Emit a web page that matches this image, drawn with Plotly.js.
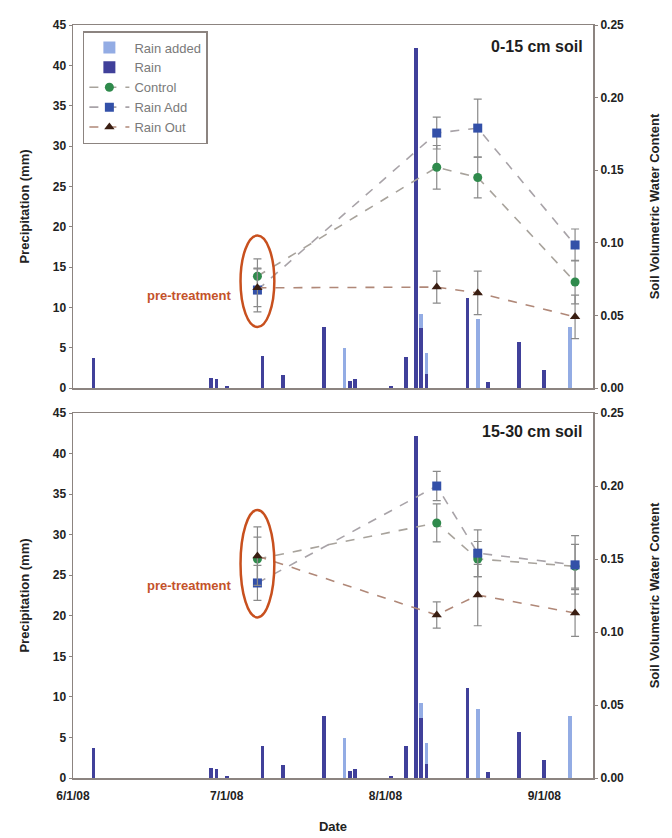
<!DOCTYPE html>
<html>
<head>
<meta charset="utf-8">
<script src="https://cdn.plot.ly/plotly-3.0.1.min.js"></script>
<style>
html,body{margin:0;padding:0;background:#fff;}
#chart{width:672px;height:838px;}
</style>
</head>
<body>
<div id="chart"></div>
<script>
// Precipitation (mm)
const rainDates = ['2008-06-05','2008-06-28','2008-06-29','2008-07-01','2008-07-08','2008-07-12','2008-07-20','2008-07-25','2008-07-26','2008-08-02','2008-08-05','2008-08-07','2008-08-08','2008-08-09','2008-08-17','2008-08-21','2008-08-27','2008-09-01'];
const rainMM    = [3.7, 1.2, 1.1, 0.3, 4.0, 1.6, 7.6, 0.9, 1.1, 0.3, 3.9, 42.2, 7.4, 1.7, 11.1, 0.7, 5.7, 2.2];
const addedDates = ['2008-07-24','2008-08-08','2008-08-09','2008-08-19','2008-09-06'];
const addedMM    = [4.9, 9.2, 4.3, 8.5, 7.6];

// Soil volumetric water content sampling dates
const soilDates = ['2008-07-07','2008-08-11','2008-08-19','2008-09-07'];

// 0-15 cm soil
const top_control = [0.077, 0.152, 0.145, 0.073];
const top_controlErr = [0.012, 0.015, 0.014, 0.015];
const top_rainAdd = [0.0675, 0.1756, 0.179, 0.0985];
const top_rainAddErr = [0.015, 0.011, 0.020, 0.011];
const top_rainOut = [0.069, 0.0695, 0.0655, 0.049];
const top_rainOutErr = [0.013, 0.011, 0.015, 0.015];

// 15-30 cm soil
const bot_control = [0.150, 0.1747, 0.150, 0.145];
const bot_controlErr = [0.015, 0.013, 0.012, 0.015];
const bot_rainAdd = [0.1336, 0.200, 0.154, 0.146];
const bot_rainAddErr = [0.012, 0.010, 0.016, 0.020];
const bot_rainOut = [0.152, 0.1116, 0.1253, 0.113];
const bot_rainOutErr = [0.020, 0.009, 0.021, 0.016];

const xTickVals = ['2008-06-01','2008-07-01','2008-08-01','2008-09-01'];
const xTickText = ['6/1/08','7/1/08','8/1/08','9/1/08'];

const DAY = 86400000;
const barW = 0.75 * DAY;
const cAdded = '#93ace4';
const cRain = '#40409a';
const cControl = '#2f8a4c';
const cAdd = '#3350a8';
const cOut = '#3a1e12';
const errColor = '#8a8a8a';

function bars(xa, ya, show) {
  return [
    {type:'bar', name:'Rain added', x:addedDates, y:addedMM, width:addedDates.map(()=>barW),
     marker:{color:cAdded}, xaxis:xa, yaxis:ya, showlegend:show, legendgroup:'a'},
    {type:'bar', name:'Rain', x:rainDates, y:rainMM, width:rainDates.map(()=>barW),
     marker:{color:cRain}, xaxis:xa, yaxis:ya, showlegend:show, legendgroup:'b'}
  ];
}
function series(name, y, err, color, sym, lineColor, xa, ya, show, grp) {
  return {type:'scatter', mode:'lines+markers', name:name, x:soilDates, y:y,
    error_y:{type:'data', array:err, visible:true, color:errColor, thickness:1.2, width:4},
    marker:{color:color, symbol:sym, size:9},
    line:{color:lineColor, dash:'dash', width:1.6},
    xaxis:xa, yaxis:ya, showlegend:show, legendgroup:grp};
}

const data = [
  ...bars('x','y',true),
  series('Control', top_control, top_controlErr, cControl, 'circle', '#a8a39c', 'x','y2', true,'c'),
  series('Rain Add', top_rainAdd, top_rainAddErr, cAdd, 'square', '#a8a3a8', 'x','y2', true,'d'),
  series('Rain Out', top_rainOut, top_rainOutErr, cOut, 'triangle-up', '#b08878', 'x','y2', true,'e'),
  ...bars('x2','y3',false),
  series('Control', bot_control, bot_controlErr, cControl, 'circle', '#a8a39c', 'x2','y4', false,'c'),
  series('Rain Add', bot_rainAdd, bot_rainAddErr, cAdd, 'square', '#a8a3a8', 'x2','y4', false,'d'),
  series('Rain Out', bot_rainOut, bot_rainOutErr, cOut, 'triangle-up', '#b08878', 'x2','y4', false,'e')
];

const frame = '#8c8480';
const tickFont = {family:'Liberation Sans, Arial, sans-serif', size:12, color:'#222', weight:'bold'};
const titleFont = {family:'Liberation Sans, Arial, sans-serif', size:13, color:'#222', weight:'bold'};
const xRange = ['2008-06-01', '2008-09-10 12:00'];

const topDom = [0.5179, 1];
const botDom = [0, 0.4847];

function leftY(dom, anchor) {
  return {domain:dom, anchor:anchor, range:[0,45], dtick:5, tick0:0, showgrid:false, zeroline:false,
    showline:true, linecolor:frame, linewidth:1.5, mirror:true, ticks:'outside', ticklen:3, tickcolor:frame,
    tickfont:tickFont, title:{text:'Precipitation (mm)', font:titleFont, standoff:20}};
}
function rightY(over, anchor) {
  return {overlaying:over, anchor:anchor, side:'right', range:[0,0.25], dtick:0.05, tick0:0, tickformat:'.2f',
    showgrid:false, zeroline:false, showline:false, ticks:'outside', ticklen:4, tickcolor:frame,
    tickfont:tickFont, title:{text:'Soil Volumetric Water Content', font:titleFont, standoff:26}};
}

const ellipseColor = '#c8501e';
const preDate = new Date(soilDates[0]).getTime();

const layout = {
  width:672, height:838,
  margin:{l:73, r:79, t:25, b:60},
  paper_bgcolor:'#fff', plot_bgcolor:'#fff',
  barmode:'overlay', bargap:0,
  showlegend:true,
  legend:{x:0.019, y:0.992, xanchor:'left', yanchor:'top', bordercolor:frame, borderwidth:1.5,
    bgcolor:'rgba(255,255,255,0)', font:{family:'Liberation Sans, Arial, sans-serif', size:13, color:'#7a7a7a'},
    tracegroupgap:0, itemwidth:40},
  xaxis:{domain:[0,1], anchor:'y', type:'date', range:xRange, showticklabels:false, showgrid:false,
    zeroline:false, showline:true, linecolor:frame, linewidth:1.5, mirror:true, ticks:''},
  yaxis:leftY(topDom,'x'),
  yaxis2:rightY('y','x'),
  xaxis2:{domain:[0,1], anchor:'y3', type:'date', range:xRange, tickvals:xTickVals, ticktext:xTickText,
    showgrid:false, zeroline:false, showline:true, linecolor:frame, linewidth:1.5, mirror:true, ticks:'',
    ticklabelstandoff:6,
    tickfont:tickFont, title:{text:'Date', font:titleFont, standoff:20}},
  yaxis3:leftY(botDom,'x2'),
  yaxis4:rightY('y3','x2'),
  shapes:[
    {type:'circle', xref:'x', yref:'y2', x0:preDate-3.3*DAY, x1:preDate+3.3*DAY, y0:0.042, y1:0.105,
     line:{color:ellipseColor, width:2.5}},
    {type:'circle', xref:'x2', yref:'y4', x0:preDate-3.3*DAY, x1:preDate+3.3*DAY, y0:0.110, y1:0.1836,
     line:{color:ellipseColor, width:2.5}}
  ],
  annotations:[
    {text:'pre-treatment', xref:'paper', yref:'y2', x:0.3077, y:0.064, xanchor:'right', yanchor:'middle',
     showarrow:false, font:{family:'Liberation Sans, Arial, sans-serif', size:13, color:'#c4522a', weight:'bold'}},
    {text:'pre-treatment', xref:'paper', yref:'y4', x:0.3077, y:0.132, xanchor:'right', yanchor:'middle',
     showarrow:false, font:{family:'Liberation Sans, Arial, sans-serif', size:13, color:'#c4522a', weight:'bold'}},
    {text:'0-15 cm soil', xref:'x domain', yref:'y domain', x:0.985, y:0.94, xanchor:'right', yanchor:'middle',
     showarrow:false, font:{family:'Liberation Sans, Arial, sans-serif', size:16, color:'#1e1e1e', weight:'bold'}},
    {text:'15-30 cm soil', xref:'x2 domain', yref:'y3 domain', x:0.985, y:0.95, xanchor:'right', yanchor:'middle',
     showarrow:false, font:{family:'Liberation Sans, Arial, sans-serif', size:16, color:'#1e1e1e', weight:'bold'}}
  ]
};

Plotly.newPlot('chart', data, layout, {displayModeBar:false, staticPlot:true});
</script>
</body>
</html>
